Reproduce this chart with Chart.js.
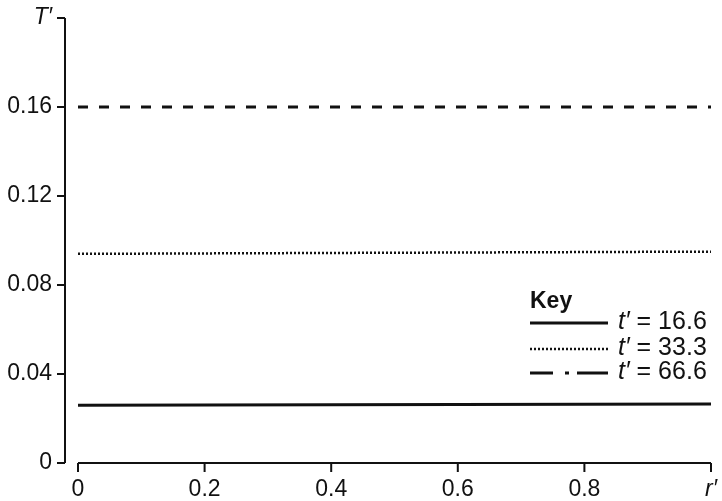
<!DOCTYPE html>
<html>
<head>
<meta charset="utf-8">
<script src="https://cdn.jsdelivr.net/npm/chart.js@4/dist/chart.umd.min.js"></script>
<style>
  html, body { margin: 0; padding: 0; background: #fff; }
  #wrap { width: 722px; height: 501px; }
</style>
</head>
<body>
<div id="wrap"><canvas id="c"></canvas></div>
<script>
// data
var rValues = [0, 0.2, 0.4, 0.6, 0.8, 1.0];
var t166 = [0.0260, 0.0261, 0.0262, 0.0263, 0.0264, 0.0265];
var t333 = [0.0940, 0.0942, 0.0944, 0.0946, 0.0948, 0.0950];
var t666 = [0.1600, 0.1600, 0.1600, 0.1600, 0.1600, 0.1600];
var seriesNames = ['16.6', '33.3', '66.6'];

var yTicks = [0, 0.04, 0.08, 0.12, 0.16, 0.2];
var yTickLabels = ['0', '0.04', '0.08', '0.12', '0.16', 'T\u2032'];
var xTicks = [0, 0.2, 0.4, 0.6, 0.8, 1.0];
var xTickLabels = ['0', '0.2', '0.4', '0.6', '0.8', 'r\u2032'];

var FONT = '"Liberation Sans", Arial, Helvetica, sans-serif';
var ink = '#111';

function pts(vals) {
	var out = [];
	for (var i = 0; i < rValues.length; i++) {
		out.push({ x: rValues[i], y: vals[i] });
	}
	return out;
}

// axis lines and tick marks, y axis set apart from the x axis
var axesPlugin = {
	id: 'axes',
	afterDraw: function (chart) {
		var ctx = chart.ctx;
		var xs = chart.scales.x, ys = chart.scales.y;
		var area = chart.chartArea;
		var ax = area.left - 13;
		ctx.save();
		ctx.strokeStyle = ink;
		ctx.lineWidth = 2;
		ctx.beginPath();
		ctx.moveTo(ax, ys.getPixelForValue(yTicks[yTicks.length - 1]));
		ctx.lineTo(ax, ys.getPixelForValue(0));
		for (var i = 0; i < yTicks.length; i++) {
			var py = ys.getPixelForValue(yTicks[i]);
			ctx.moveTo(ax - 8, py);
			ctx.lineTo(ax, py);
		}
		var by = area.bottom;
		ctx.moveTo(xs.getPixelForValue(0), by);
		ctx.lineTo(xs.getPixelForValue(1), by);
		for (var k = 0; k < xTicks.length; k++) {
			var px = xs.getPixelForValue(xTicks[k]);
			ctx.moveTo(px, by);
			ctx.lineTo(px, by + 9);
		}
		ctx.stroke();
		ctx.restore();
	}
};

// the "Key" box inside the plot
var keyPlugin = {
	id: 'key',
	afterDraw: function (chart) {
		var ctx = chart.ctx;
		var x0 = 530, x1 = 608;
		var rows = [
			{ y: 323, dash: [], w: 3 },
			{ y: 349, dash: [2, 2], w: 2.5 },
			{ y: 373, dash: [23, 12, 4, 8, 31], w: 3 }
		];
		ctx.save();
		ctx.fillStyle = ink;
		ctx.textBaseline = 'middle';
		ctx.font = 'bold 23px ' + FONT;
		ctx.fillText('Key', 530, 302);
		for (var i = 0; i < rows.length; i++) {
			var r = rows[i];
			ctx.strokeStyle = ink;
			ctx.lineWidth = r.w;
			ctx.setLineDash(r.dash);
			ctx.beginPath();
			ctx.moveTo(x0, r.y);
			ctx.lineTo(x1, r.y);
			ctx.stroke();
			ctx.setLineDash([]);
			ctx.font = 'italic 25px ' + FONT;
			ctx.fillText('t\u2032', 618, r.y - 1);
			var w = ctx.measureText('t\u2032').width;
			ctx.font = '25px ' + FONT;
			ctx.fillText(' = ' + seriesNames[i], 618 + w, r.y - 1);
		}
		ctx.restore();
	}
};

function tickFont(labels) {
	return function (c) {
		var last = c.tick && c.index === labels.length - 1;
		return { family: FONT, size: 23, style: last ? 'italic' : 'normal' };
	};
}

// invisible tick marks give the label gap without adding scale padding
function hiddenGrid(len) {
	return { display: true, drawOnChartArea: false, drawTicks: true, tickLength: len, color: 'rgba(0,0,0,0)', tickColor: 'rgba(0,0,0,0)' };
}

new Chart(document.getElementById('c'), {
	type: 'line',
	data: {
		datasets: [
			{ label: seriesNames[0], data: pts(t166), borderColor: ink, borderWidth: 3, pointRadius: 0, borderDash: [] },
			{ label: seriesNames[1], data: pts(t333), borderColor: ink, borderWidth: 2.5, pointRadius: 0, borderDash: [2, 2] },
			{ label: seriesNames[2], data: pts(t666), borderColor: ink, borderWidth: 3, pointRadius: 0, borderDash: [10, 11] }
		]
	},
	options: {
		responsive: true,
		maintainAspectRatio: false,
		animation: false,
		layout: { padding: { top: 18, right: 11, left: 0, bottom: 0 } },
		plugins: { legend: { display: false }, tooltip: { enabled: false } },
		scales: {
			x: {
				type: 'linear', min: 0, max: 1,
				grid: hiddenGrid(13),
				border: { display: false },
				afterBuildTicks: function (s) { s.ticks = xTicks.map(function (v) { return { value: v }; }); },
				afterFit: function (s) { s.height = 38; },
				ticks: {
					color: ink, padding: 0, maxRotation: 0, autoSkip: false,
					font: tickFont(xTickLabels),
					callback: function (v, i) { return xTickLabels[i]; }
				}
			},
			y: {
				type: 'linear', min: 0, max: 0.2,
				grid: hiddenGrid(26),
				border: { display: false },
				afterBuildTicks: function (s) { s.ticks = yTicks.map(function (v) { return { value: v }; }); },
				afterFit: function (s) { s.width = 78; },
				ticks: {
					color: ink, padding: 0, autoSkip: false,
					font: tickFont(yTickLabels),
					callback: function (v, i) { return yTickLabels[i]; }
				}
			}
		}
	},
	plugins: [axesPlugin, keyPlugin]
});
</script>
</body>
</html>
